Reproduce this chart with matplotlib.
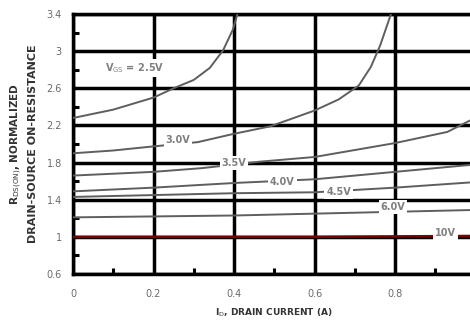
import numpy as np
import matplotlib
matplotlib.use('Agg')
from matplotlib import pyplot as plt
from matplotlib.ticker import MultipleLocator

# values (normalized R_DS(on) vs drain current)
x_25 = [0, 0.1, 0.2, 0.25, 0.3, 0.34, 0.373, 0.397, 0.41]
y_25 = [2.28, 2.37, 2.50, 2.60, 2.69, 2.82, 3.01, 3.23, 3.42]

x_30 = [0, 0.1, 0.19, 0.31, 0.4, 0.49, 0.6, 0.66, 0.71, 0.74, 0.763, 0.79]
y_30 = [1.90, 1.93, 1.97, 2.02, 2.11, 2.19, 2.36, 2.48, 2.63, 2.83, 3.06, 3.40]

x_35 = [0, 0.2, 0.32, 0.465, 0.6, 0.8, 0.93, 0.985, 1.0]
y_35 = [1.66, 1.70, 1.74, 1.81, 1.86, 2.01, 2.13, 2.25, 2.28]

x_40 = [0, 0.2, 0.4, 0.6, 0.8, 1.0]
y_40 = [1.49, 1.53, 1.58, 1.62, 1.70, 1.78]

x_45 = [0, 0.2, 0.4, 0.6, 0.8, 1.0]
y_45 = [1.43, 1.45, 1.47, 1.48, 1.53, 1.59]

x_60 = [0, 0.2, 0.4, 0.6, 0.8, 1.0]
y_60 = [1.21, 1.22, 1.23, 1.25, 1.27, 1.29]

x_10 = [0, 0.2, 0.4, 0.6, 0.8, 1.0]
y_10 = [1.0, 1.0, 1.0, 1.0, 1.005, 1.01]

# label text and where it sits (data coords)
labels = [r'V$_{\mathrm{GS}}$ = 2.5V', '3.0V', '3.5V', '4.0V', '4.5V', '6.0V', '10V']
label_x = [0.154, 0.261, 0.40, 0.52, 0.66, 0.795, 0.925]
label_y = [2.82, 2.04, 1.80, 1.59, 1.48, 1.32, 1.04]

xticks = [0, 0.2, 0.4, 0.6, 0.8]
yticks = [0.6, 1, 1.4, 1.8, 2.2, 2.6, 3, 3.4]

fig = plt.figure(figsize=(4.7, 3.2), dpi=100)
# plot runs past the right edge of the picture, like the reference
ax = fig.add_axes([73 / 470, 46 / 320, 402.5 / 470, 260 / 320])

gray = '#5e5e5e'
for xs, ys in [(x_25, y_25), (x_30, y_30), (x_35, y_35), (x_40, y_40),
               (x_45, y_45), (x_60, y_60)]:
    ax.plot(xs, ys, color=gray, lw=1.4, zorder=3)
ax.plot(x_10, y_10, color='#7a0000', lw=1.8, zorder=3)

for t, lx, ly in zip(labels, label_x, label_y):
    ax.text(lx, ly, t, fontsize=7, fontweight='bold', color='#808080',
            ha='center', va='center', zorder=5,
            bbox=dict(facecolor='white', edgecolor='none', pad=1.5))

ax.set_xlim(0, 1.0)
ax.set_ylim(0.6, 3.4)
ax.set_xticks(xticks)
ax.set_xticklabels(['0', '0.2', '0.4', '0.6', '0.8'])
ax.set_yticks(yticks)
ax.set_yticklabels(['0.6', '1', '1.4', '1.8', '2.2', '2.6', '3', '3.4'])
ax.set_xticks([0.1, 0.3, 0.5, 0.7, 0.9], minor=True)
ax.set_yticks([0.8, 1.2, 1.6, 2.0, 2.4, 2.8, 3.2], minor=True)

ax.grid(True, which='major', color='black', lw=2.5, zorder=1)
ax.set_axisbelow(True)
for s in ax.spines.values():
    s.set_linewidth(2.5)
ax.spines['right'].set_visible(False)

ax.tick_params(which='major', length=0, labelsize=7, labelcolor='#6a6a6a')
ax.tick_params(axis='y', which='major', pad=8)
ax.tick_params(axis='x', which='major', pad=11)
ax.tick_params(which='minor', direction='in', length=4, width=2.2,
               top=False, right=False)

ax.set_xlabel(r'I$_{\mathrm{D}}$, DRAIN CURRENT (A)', fontsize=6.5,
              fontweight='bold', color='#333333', labelpad=5)
fig.text(16 / 470, 0.55, r'R$_{\mathrm{DS(ON)}}$, NORMALIZED', rotation=90,
         fontsize=7.5, fontweight='bold', color='#333333', ha='center', va='center')
fig.text(33 / 470, 0.55, 'DRAIN-SOURCE ON-RESISTANCE', rotation=90,
         fontsize=8, fontweight='bold', color='#333333', ha='center', va='center')

fig.savefig('out.png', dpi=100)
